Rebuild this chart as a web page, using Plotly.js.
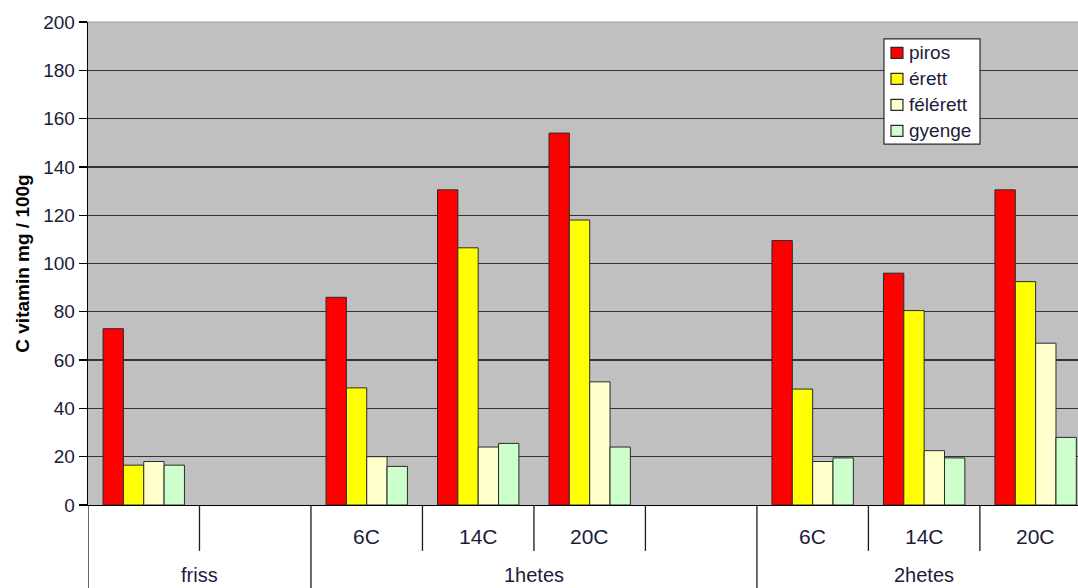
<!DOCTYPE html>
<html>
<head>
<meta charset="utf-8">
<script src="https://cdn.plot.ly/plotly-3.0.1.min.js"></script>
<style>
  html, body { margin: 0; padding: 0; background: #fff; overflow: hidden; }
  #chart { width: 1078px; height: 588px; }
</style>
</head>
<body>
<div id="chart"></div>
<script>
// Vitamin C content (mg / 100g) by ripeness, fresh and after 1 and 2 weeks of storage
const subLabels = ['', '', '6C', '14C', '20C', '', '6C', '14C', '20C'];
const groupLabels = ['friss', '1hetes', '2hetes'];
const groupSpans = [[0, 1], [2, 5], [6, 8]];   // first and last slot of each group

const seriesNames = ['piros', 'érett', 'félérett', 'gyenge'];
const piros    = [73, null, 86, 130.5, 154, null, 109.5, 96, 130.5];
const erett    = [16.5, null, 48.5, 106.5, 118, null, 48, 80.5, 92.5];
const felerett = [18, null, 20, 24, 51, null, 18, 22.5, 67];
const gyenge   = [16.5, null, 16, 25.5, 24, null, 19.5, 19.5, 28];

const colors = ['#ff0000', '#ffff00', '#ffffcc', '#ccffcc'];
const values = [piros, erett, felerett, gyenge];

const slots = subLabels.map((_, i) => i);
const FONT = 'Liberation Sans, Arial, sans-serif';
const textColor = '#1c1c3a';

const traces = values.map((v, k) => ({
  type: 'bar',
  name: seriesNames[k],
  x: slots,
  y: v,
  marker: { color: colors[k], line: { color: '#2a2a2a', width: 1 } },
  hoverinfo: 'x+y+name',
  showlegend: false
}));

const shapes = [];
const annotations = [];

// slot boundaries below the axis: short between sub-categories, long at group edges
const groupEdges = new Set();
groupSpans.forEach(s => { groupEdges.add(s[0] - 0.5); groupEdges.add(s[1] + 0.5); });
for (let i = 0; i <= subLabels.length; i++) {
  const xb = i - 0.5;
  const long = groupEdges.has(xb);
  shapes.push({
    type: 'line', xref: 'x', yref: 'paper',
    x0: xb, x1: xb, y0: 0, y1: long ? -0.2 : -0.095,
    line: { color: '#1a1a1a', width: 1.3 }
  });
}

subLabels.forEach((t, i) => {
  if (!t) return;
  annotations.push({
    x: i, y: -0.066, xref: 'x', yref: 'paper', text: t, showarrow: false,
    xanchor: 'center', yanchor: 'middle',
    font: { family: FONT, size: 21, color: textColor }
  });
});
groupLabels.forEach((t, g) => {
  annotations.push({
    x: (groupSpans[g][0] + groupSpans[g][1]) / 2, y: -0.144, xref: 'x', yref: 'paper',
    text: t, showarrow: false, xanchor: 'center', yanchor: 'middle',
    font: { family: FONT, size: 20, color: textColor }
  });
});

// top border of the plotting area
shapes.push({
  type: 'line', xref: 'paper', yref: 'paper', x0: 0, x1: 1, y0: 1, y1: 1,
  line: { color: '#9a9a9a', width: 1 }
});

// legend box, drawn as a framed panel with colour swatches
const lg = { x0: 0.804, x1: 0.901, yTop: 0.965, yBot: 0.747, rowStep: 0.0538, firstRow: 0.936 };
shapes.push({
  type: 'rect', xref: 'paper', yref: 'paper',
  x0: lg.x0, x1: lg.x1, y0: lg.yBot, y1: lg.yTop,
  fillcolor: '#ffffff', line: { color: '#2a2a2a', width: 1.2 }, layer: 'above'
});
seriesNames.forEach((name, k) => {
  const yc = lg.firstRow - k * lg.rowStep;
  shapes.push({
    type: 'rect', xref: 'paper', yref: 'paper',
    x0: 0.8111, x1: 0.8232, y0: yc - 0.0114, y1: yc + 0.0114,
    fillcolor: colors[k], line: { color: '#2a2a2a', width: 1.2 }, layer: 'above'
  });
  annotations.push({
    x: 0.8268, y: yc, xref: 'paper', yref: 'paper', text: name, showarrow: false,
    xanchor: 'left', yanchor: 'middle',
    font: { family: FONT, size: 19, color: textColor }
  });
});

const layout = {
  width: 1078, height: 588,
  margin: { l: 88, r: 0, t: 22, b: 83 },
  paper_bgcolor: '#ffffff',
  plot_bgcolor: '#c0c0c0',
  barmode: 'group',
  bargap: 0.27,
  bargroupgap: 0,
  showlegend: false,
  xaxis: {
    range: [-0.5, 8.38],
    showticklabels: false, ticks: '', showgrid: false, zeroline: false,
    showline: true, linecolor: '#000000', linewidth: 1.3,
    fixedrange: true
  },
  yaxis: {
    range: [0, 200], dtick: 20, tick0: 0,
    showgrid: true, gridcolor: '#333333', gridwidth: 1.4,
    zeroline: false,
    showline: true, linecolor: '#000000', linewidth: 1.3,
    ticks: 'outside', ticklen: 8, tickcolor: '#000000', tickwidth: 1.3,
    tickfont: { family: FONT, size: 19, color: textColor },
    title: {
      text: '<b>C vitamin mg / 100g</b>', standoff: 8,
      font: { family: FONT, size: 19, color: '#000000' }
    },
    fixedrange: true
  },
  shapes: shapes,
  annotations: annotations
};

Plotly.newPlot('chart', traces, layout, { displayModeBar: false, staticPlot: true });
</script>
</body>
</html>
